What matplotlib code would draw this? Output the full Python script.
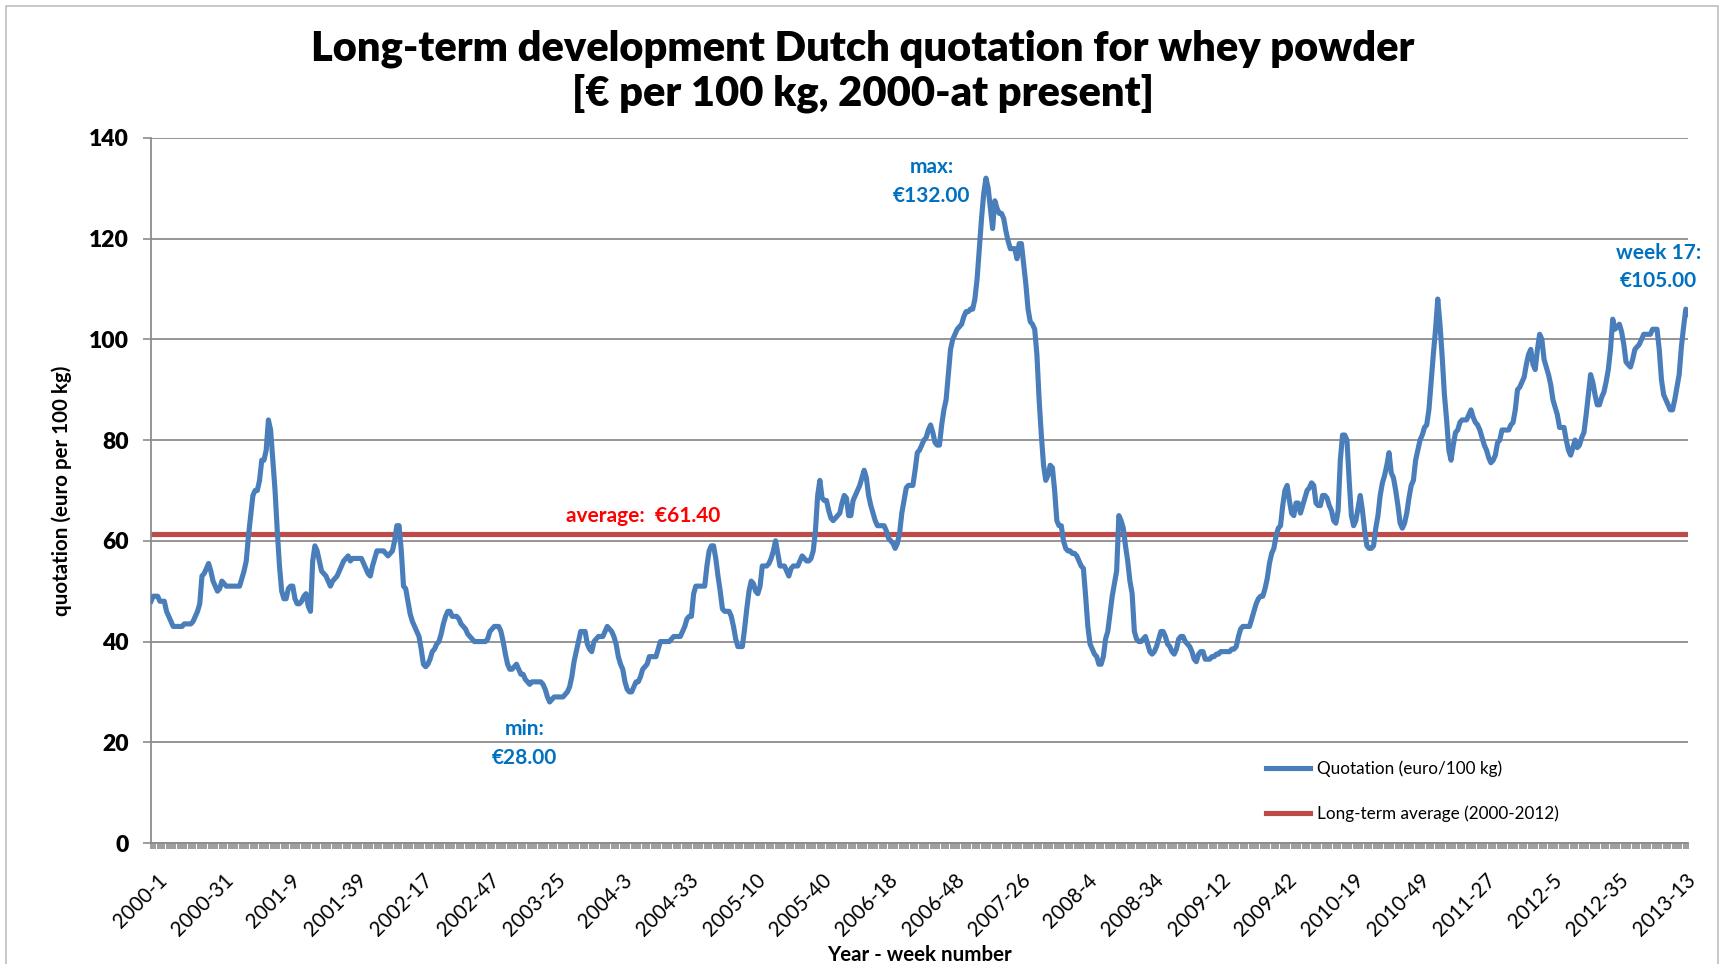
import numpy as np
import matplotlib.pyplot as plt
from matplotlib.patches import Rectangle
from matplotlib.transforms import ScaledTranslation

plt.rcParams['font.family'] = ['Lato', 'DejaVu Sans']

# weeks per year on the category axis
weeks_per_year = {2000: 52, 2001: 52, 2002: 52, 2003: 52, 2004: 53, 2005: 52, 2006: 52,
                  2007: 52, 2008: 52, 2009: 53, 2010: 52, 2011: 52, 2012: 52, 2013: 17}

# weekly quotation, euro per 100 kg
q2000 = [48, 49, 49, 49, 48, 48, 48, 46, 45, 44, 43, 43, 43, 43, 43, 43.5, 43.5, 43.5, 43.5, 44,
         45, 46, 47.5, 53, 53.5, 54.5, 55.5, 54, 52, 51, 50, 50.5, 52, 51.5, 51, 51, 51, 51, 51, 51,
         51, 52.5, 54, 56, 61, 65, 69, 70, 70, 72, 76, 76]
q2001 = [78, 84, 82, 76, 70, 62, 55, 50, 48.5, 48.5, 50.5, 51, 51, 48.5, 47.5, 47.5, 48, 49,
         49.5, 47, 46, 56, 59, 58, 56, 54, 53.5, 53, 52, 51, 52, 52.5, 53, 54, 55, 56, 56.5, 57,
         56, 56.5, 56.5, 56.5, 56.5, 56.5, 55.5, 54.5, 53.5, 53, 55, 56.5, 58, 58]
q2002 = [58, 58, 57.5, 57, 57.5, 58, 60, 63, 63, 58, 51, 50.5, 48, 45.5, 44, 43,
         42, 41, 38.5, 35.5, 35, 35.5, 36.5, 38, 38.5, 39.5, 40, 41.5, 43.5, 45, 46, 46, 45, 45, 45, 44.5,
         43.5, 43, 42.5, 41.5, 41, 40.5, 40, 40, 40, 40, 40, 40, 40.5, 42, 42.5, 43]
q2003 = [43, 43, 42, 40, 37.5, 35.5, 34.5, 34.5, 35, 35.5, 34.5, 33.5, 33.5, 32.5,
         32, 31.5, 32, 32, 32, 32, 32, 31.5, 30.5, 29, 28, 28.5, 29, 29, 29, 29, 29, 29.5, 30, 31,
         33, 36, 38, 40, 42, 42, 42, 39.5, 38.5, 38, 40, 40.5, 41, 41, 41, 42, 43, 42.5]
q2004 = [42, 41, 39.5, 37, 35.5, 34.5, 32, 30.5, 30, 30, 31, 32, 32, 33, 34.5, 35, 35.5, 37, 37,
         37, 37, 38.5, 40, 40, 40, 40, 40, 40.5, 41, 41, 41, 41, 42, 43, 44.5, 45, 45, 49.5, 51, 51,
         51, 51, 51, 55, 58, 59, 59, 56.5, 53, 50, 46.5, 46, 46]
q2005 = [46, 45, 43, 40.5, 39, 39, 39, 42.5, 46.5, 50, 52, 51.5, 50, 49.5, 51, 55, 55, 55, 55.5,
         56.5, 58, 60, 57.5, 55, 55, 55, 54, 53, 54.5, 55, 55, 55, 56, 57, 56.5, 56, 56, 56.5, 58,
         62, 69, 72, 68.5, 68, 68, 66, 64.5, 64, 64.5, 65, 65.5, 67.5]
q2006 = [69, 68.5, 65, 65, 68, 69, 70, 71, 72.5, 74, 72.5, 69, 67, 65.5, 64, 63, 63,
         63, 63, 62, 60.5, 60, 59.5, 58.5, 59.5, 61.5, 65.5, 68, 70.5, 71, 71, 71, 74, 77.5, 78, 79, 80,
         80.5, 82, 83, 81.5, 79.5, 79, 79, 83, 86, 88, 93, 98, 100, 101, 102]
q2007 = [102.5, 103, 104.5, 105.5, 105.5, 106, 106, 108, 112, 118, 124, 129, 132, 130, 126,
         122, 127.5, 126, 125, 125, 124, 121.5, 119.5, 118, 118, 118, 116, 119, 119, 115, 111, 106,
         103.5, 103, 102, 97, 88, 81, 75, 72, 73, 75, 74.5, 70, 64, 63, 63, 60, 58.5, 58, 58, 57.5]
q2008 = [57.5, 57, 56, 55, 54.5, 49, 43, 39.5, 38.5, 37.5, 37, 35.5, 35.5, 37, 40.5, 42, 45.5,
         49, 51.5, 54, 65, 64, 62.5, 59, 56, 52, 49.5, 42, 40.5, 40, 40, 40.5, 41, 39.5, 38, 37.5,
         38, 39, 40.5, 42, 42, 41, 39.5, 39, 38, 37.5, 38.5, 40.5, 41, 41, 40, 39.5]
q2009 = [39, 38, 36.5, 36, 37.5, 38, 38, 36.5, 36.5, 36.5, 37, 37, 37.5, 37.5, 38, 38, 38, 38,
         38, 38.5, 38.5, 39, 41, 42.5, 43, 43, 43, 43, 44.5, 46, 47.5, 48.5, 49, 49, 50.5, 52.5,
         55.5, 57.5, 58.5, 61, 62.5, 63, 67, 70, 71, 68, 65.5, 65, 67.5, 67.5, 65.5, 67, 68.5]
q2010 = [70, 70.5, 71.5, 71, 67.5, 67, 67, 69, 69, 68.5, 67, 66, 64, 63.5, 66, 76, 81, 81, 80,
         72, 65, 63, 64, 66.5, 69, 66, 62, 59, 58.5, 58.5, 59, 62.5, 65, 69, 71.5, 73, 75, 77.5,
         73.5, 72.5, 70, 67, 63.5, 62.5, 63.5, 65.5, 68.5, 71, 72, 76, 78, 80]
q2011 = [81, 82.5, 83, 86, 91.5, 97, 102, 108, 103, 96.5, 89, 84, 78, 76, 79, 81.5, 82, 83.5,
         84, 84, 84, 85, 86, 84.5, 83.5, 83, 82, 80.5, 79, 78, 76.5, 75.5, 76, 77, 79.5, 80, 82, 82,
         82, 82, 83, 83.5, 86, 90, 90.5, 91.5, 92.5, 95, 97, 98, 95, 94]
q2012 = [98, 101, 100, 96, 94.5, 93, 91, 88, 86.5, 85, 82.5, 82.5, 82.5, 80, 78, 77, 78.5, 80,
         78.5, 79, 80.5, 81.5, 85, 89, 93, 91.5, 89, 87, 87, 88.5, 89.5, 91.5, 94, 98, 104, 102,
         102.5, 103, 101.5, 99, 95.5, 95, 94.5, 96, 98, 98.5, 99, 100, 101, 101, 101, 101]
q2013 = [102, 102, 102, 98, 92, 89, 88, 87, 86, 86, 88, 90.5, 93, 98.5, 102.5, 106, 105]

average = 61.40

quotation = (q2000 + q2001 + q2002 + q2003 + q2004 + q2005 + q2006 + q2007 +
             q2008 + q2009 + q2010 + q2011 + q2012 + q2013)

week_labels = []
for year, n in weeks_per_year.items():
    for w in range(1, n + 1):
        week_labels.append(f"{year}-{w}")

n = len(quotation)
x = np.arange(1, n + 1)

fig = plt.figure(figsize=(17.26, 9.64), dpi=100)
ax = fig.add_axes([0.0875, 0.1255, 0.8905, 0.7315])

ax.plot(x, quotation, color='#4A7EBB', lw=3.7, solid_joinstyle='round',
        label='Quotation (euro/100 kg)', zorder=3)
ax.axhline(average, color='#BE4B48', lw=3.7, label='Long-term average (2000-2012)', zorder=2)

ax.set_xlim(1, n)
ax.set_ylim(0, 140)
ax.set_yticks(range(0, 141, 20))
ax.yaxis.grid(True, color='#8C8C8C', lw=1.3)
ax.set_axisbelow(True)

for s in ['top', 'right']:
    ax.spines[s].set_visible(False)
for s in ['left', 'bottom']:
    ax.spines[s].set_color('#8C8C8C')
    ax.spines[s].set_linewidth(1.3)

# x axis: a tick for every week, label every 30 weeks
major = list(range(1, n + 1, 30))
ax.set_xticks(major)
ax.set_xticklabels([week_labels[i - 1] for i in major], rotation=45, ha='right', va='top',
                   rotation_mode='anchor', fontsize=14.8)
ax.set_xticks(x, minor=True)
ax.tick_params(axis='x', which='both', direction='out', length=4.5, width=1.2,
               color='#8C8C8C', pad=15)
shift = ScaledTranslation(0.06, 0, fig.dpi_scale_trans)
for lab in ax.get_xticklabels():
    lab.set_transform(lab.get_transform() + shift)

ax.tick_params(axis='y', direction='out', length=6, width=1.2, color='#8C8C8C', pad=10,
               labelsize=16.5)
for lab in ax.get_yticklabels():
    lab.set_fontweight('heavy')

ax.set_ylabel('quotation (euro per 100 kg)', fontsize=14.8, fontweight='bold')
ax.yaxis.set_label_coords(-0.0514, 0.5)
ax.set_xlabel('Year - week number', fontsize=14.8, fontweight='bold')
ax.xaxis.set_label_coords(0.5, -0.159)
ax.xaxis.label.set_va('center')

fig.text(0.5, 0.926, 'Long-term development Dutch quotation for whey powder\n'
         '[€ per 100 kg, 2000-at present]', ha='center', va='center',
         fontsize=30, fontweight='heavy', linespacing=1.18)

# annotations
blue = '#0070C0'
imax = int(np.argmax(quotation))
imin = int(np.argmin(quotation))
ax.annotate(f"max:\n€{quotation[imax]:.2f}", xy=(x[imax], quotation[imax]),
            xytext=(-39, -2.5), textcoords='offset points', ha='center', va='center',
            color=blue, fontsize=15, fontweight='bold', linespacing=1.55)
ax.annotate(f"min:\n€{quotation[imin]:.2f}", xy=(x[imin], quotation[imin]),
            xytext=(-18, -30), textcoords='offset points', ha='center', va='center',
            color=blue, fontsize=15, fontweight='bold', linespacing=1.55)
ax.annotate(f"week 17:\n€{quotation[-1]:.2f}", xy=(x[-1], quotation[-1]),
            xytext=(-21.5, 34), textcoords='offset points', ha='center', va='center',
            color=blue, fontsize=15, fontweight='bold', linespacing=1.55)
ax.annotate(f"average:  €{average:.2f}", xy=(223, average), xytext=(0, 13),
            textcoords='offset points', ha='center', va='center',
            color='#FF0000', fontsize=15, fontweight='bold')

ax.legend(loc='center left', bbox_to_anchor=(0.7335, 0.1795), bbox_transform=fig.transFigure,
          frameon=False, fontsize=12.3, handlelength=2.6, handletextpad=0.4,
          labelspacing=1.65, borderpad=0, borderaxespad=0)

fig.patches.append(Rectangle((0.0035, -0.01), 0.992, 1.004, transform=fig.transFigure,
                             fill=False, edgecolor='#BFBFBF', lw=1.2))

print(n)
fig.savefig('out.png', dpi=100)
